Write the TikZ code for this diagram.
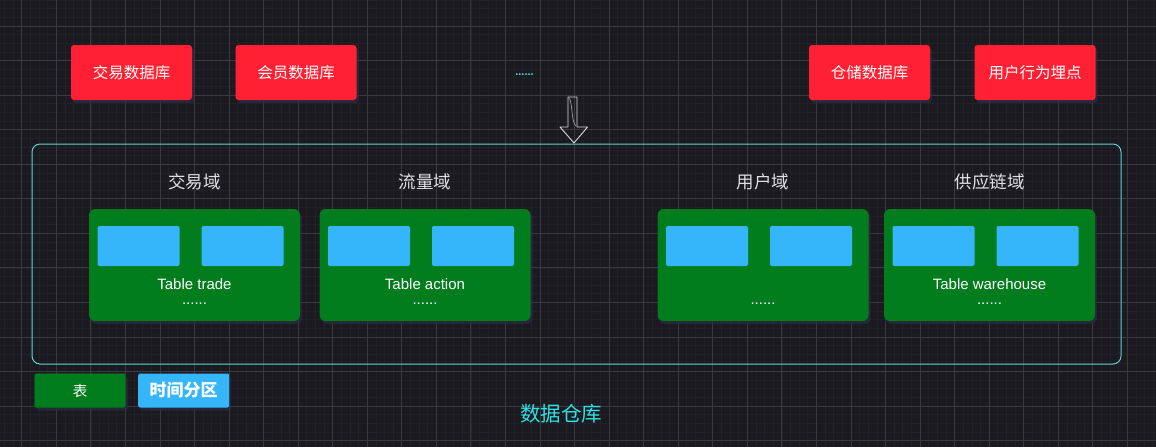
\documentclass[tikz,border=0pt]{standalone}
\usepackage{fontspec}
\setmainfont{Liberation Sans}
\newfontfamily\cjk{Noto Sans CJK SC}
\usetikzlibrary{shadows}

\definecolor{bgdark}{HTML}{1B1A20}
\definecolor{gridmajor}{HTML}{3A393F}
\definecolor{gridminor}{HTML}{222128}
\definecolor{srcred}{HTML}{FF2133}
\definecolor{tblgreen}{HTML}{017D1E}
\definecolor{tblgreendark}{HTML}{01601A}
\definecolor{partblue}{HTML}{35B6FB}
\definecolor{dwcyan}{HTML}{5ED3D6}
\definecolor{titlecyan}{HTML}{2DE2E6}
\definecolor{glow}{HTML}{2C2C45}

\begin{document}
\begin{tikzpicture}[x=1pt, y=-1pt,
  glowshadow/.style={drop shadow={shadow xshift=2pt, shadow yshift=-3pt, fill=glow, opacity=0.7}},
  srcbox/.style={fill=srcred, text=white, rounded corners=3pt, minimum width=121pt,
    minimum height=55pt, inner sep=0pt, glowshadow, font=\fontsize{15.5}{18}\selectfont\cjk},
  domainlbl/.style={text=white!88!black, font=\fontsize{17.5}{20}\selectfont\cjk},
  tblbox/.style={fill=tblgreen, rounded corners=6pt, minimum width=211pt,
    minimum height=112pt, inner sep=0pt, glowshadow},
  partbox/.style={fill=partblue, rounded corners=2pt, minimum width=82pt,
    minimum height=40pt, inner sep=0pt},
  tbllabel/.style={text=white, inner sep=0pt, font=\fontsize{15}{18}\selectfont},
  legendbox/.style={rounded corners=2pt, minimum width=91pt, minimum height=34pt,
    inner sep=0pt, text=white, glowshadow}]
  \useasboundingbox (0,0) rectangle (1156,447);

  % Fondo y rejilla
  \fill[bgdark] (0,0) rectangle (1156,447);
  \foreach \i in {-2,...,131}
    \draw[gridminor, line width=0.6pt] ({21.7+\i*8.6375},0) -- ({21.7+\i*8.6375},447);
  \foreach \j in {-3,...,49}
    \draw[gridminor, line width=0.6pt] (0,{26+\j*8.6375}) -- (1156,{26+\j*8.6375});
  \foreach \i in {0,...,33}
    \draw[gridmajor, line width=0.8pt] ({21.7+\i*34.55},0) -- ({21.7+\i*34.55},447);
  \foreach \j in {0,...,12}
    \draw[gridmajor, line width=0.8pt] (0,{26+\j*34.55}) -- (1156,{26+\j*34.55});

  % Fuentes de datos
  \node[srcbox] (tradedb) at (131.5,72.5) {交易数据库};
  \node[srcbox] (memberdb) at (296,72.5) {会员数据库};
  \node[text=titlecyan, inner sep=0pt, font=\fontsize{11}{12}\selectfont\bfseries] (moredb) at (524.5,74.5) {......};
  \node[srcbox] (stockdb) at (869.5,72.5) {仓储数据库};
  \node[srcbox] (tracking) at (1035,72.5) {用户行为埋点};

  % Flecha hacia el almacén
  \draw[white!85!black, line width=0.9pt, line join=round]
    (568,97) -- (577,97) -- (577,127) -- (587.5,127) -- (574,143) -- (560,127) -- (568,127) -- cycle;
  \draw[white!70!black, line width=0.6pt] (569.5,98) .. controls (573,108) and (571,118) .. (575.5,126);

  % Almacén de datos
  \node[draw=dwcyan, line width=1pt, rounded corners=8pt, minimum width=1089pt,
    minimum height=220pt, inner sep=0pt] (dw) at (576.5,254) {};

  % Dominios
  \node[domainlbl] (tradedom) at (194.5,182) {交易域};
  \node[domainlbl] (trafficdom) at (425,182) {流量域};
  \node[domainlbl] (userdom) at (763,182) {用户域};
  \node[domainlbl] (supplydom) at (989.5,182) {供应链域};

  % Tablas
  \node[tblbox] (tradetbl) at (194.5,265) {};
  \node[tblbox] (traffictbl) at (425,265) {};
  \node[tblbox] (usertbl) at (763,265) {};
  \node[tblbox] (supplytbl) at (989.5,265) {};

  % Particiones
  \foreach \t/\cx in {trade/194.5, traffic/425, user/763, supply/989.5} {
    \node[partbox] (\t p1) at ({\cx-56},246) {};
    \node[partbox] (\t p2) at ({\cx+48},246) {};
    \node[tbllabel] (\t dots) at (\cx,304) {......};
  }
  \node[tbllabel] (tradename) at (194.5,284) {Table trade};
  \node[tbllabel] (trafficname) at (425,284) {Table action};
  \node[tbllabel] (supplyname) at (989.5,284) {Table warehouse};

  % Leyenda
  \node[legendbox, fill=tblgreen, draw=tblgreendark, font=\fontsize{14.5}{17}\selectfont\cjk]
    (legtbl) at (80,390.5) {表};
  \node[legendbox, fill=partblue, font=\fontsize{17}{19}\selectfont\cjk\bfseries]
    (legpart) at (183.7,390.5) {时间分区};
  \node[text=titlecyan, font=\fontsize{20.5}{23}\selectfont\cjk] (dwname) at (561,414) {数据仓库};
\end{tikzpicture}
\end{document}
